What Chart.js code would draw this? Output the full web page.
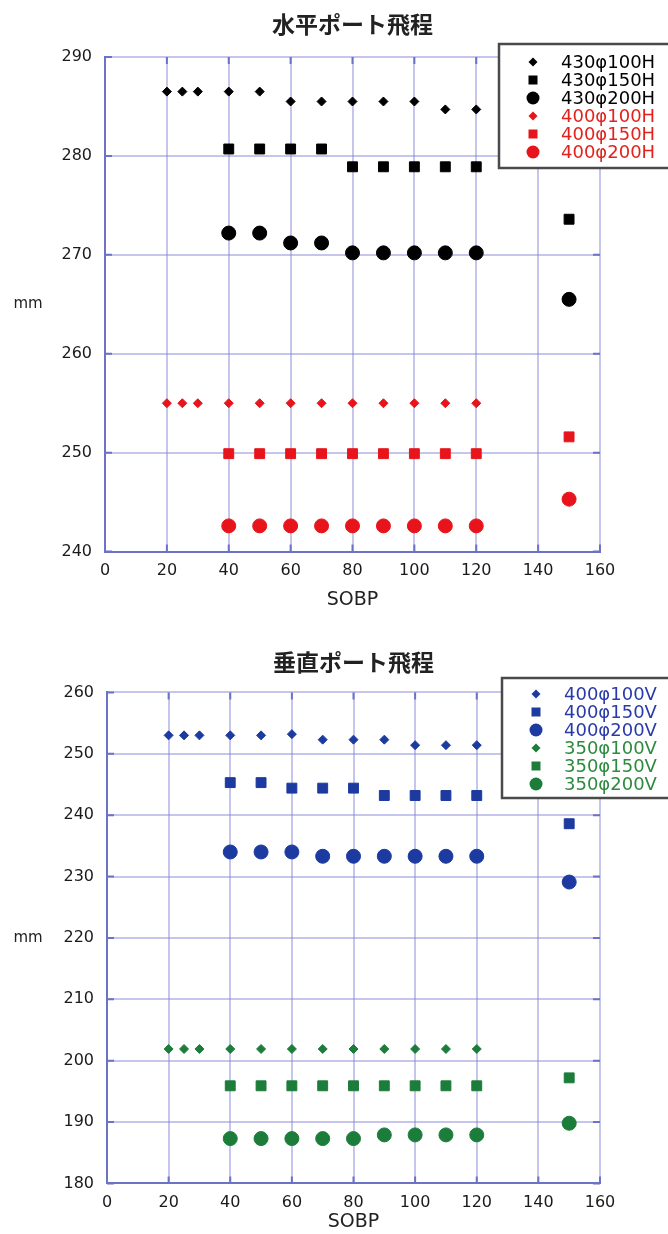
<!DOCTYPE html>
<html>
<head>
<meta charset="utf-8">
<script src="https://cdn.jsdelivr.net/npm/chart.js@4.4.1/dist/chart.umd.min.js"></script>
<style>
  body { margin: 0; background: #fff; }
  canvas { display: block; }
</style>
</head>
<body>
<canvas id="horizChart" width="668" height="620"></canvas>
<canvas id="vertChart" width="668" height="614"></canvas>
<script>
// SOBP positions
var sobpSmall = [20, 25, 30, 40, 50, 60, 70, 80, 90, 100, 110, 120];
var sobpLarge = [40, 50, 60, 70, 80, 90, 100, 110, 120, 150];
var xTicks = [0, 20, 40, 60, 80, 100, 120, 140, 160];

// 水平ポート飛程 (mm)
var h430_100 = [286.5, 286.5, 286.5, 286.5, 286.5, 285.5, 285.5, 285.5, 285.5, 285.5, 284.7, 284.7];
var h430_150 = [280.7, 280.7, 280.7, 280.7, 278.9, 278.9, 278.9, 278.9, 278.9, 273.6];
var h430_200 = [272.2, 272.2, 271.2, 271.2, 270.2, 270.2, 270.2, 270.2, 270.2, 265.5];
var h400_100 = [255.0, 255.0, 255.0, 255.0, 255.0, 255.0, 255.0, 255.0, 255.0, 255.0, 255.0, 255.0];
var h400_150 = [249.9, 249.9, 249.9, 249.9, 249.9, 249.9, 249.9, 249.9, 249.9, 251.6];
var h400_200 = [242.6, 242.6, 242.6, 242.6, 242.6, 242.6, 242.6, 242.6, 242.6, 245.3];
var hLabels = ['430φ100H', '430φ150H', '430φ200H', '400φ100H', '400φ150H', '400φ200H'];

// 垂直ポート飛程 (mm)
var v400_100 = [253.0, 253.0, 253.0, 253.0, 253.0, 253.2, 252.3, 252.3, 252.3, 251.4, 251.4, 251.4];
var v400_150 = [245.3, 245.3, 244.4, 244.4, 244.4, 243.2, 243.2, 243.2, 243.2, 238.6];
var v400_200 = [234.0, 234.0, 234.0, 233.3, 233.3, 233.3, 233.3, 233.3, 233.3, 229.1];
var v350_100 = [201.9, 201.9, 201.9, 201.9, 201.9, 201.9, 201.9, 201.9, 201.9, 201.9, 201.9, 201.9];
var v350_150 = [195.9, 195.9, 195.9, 195.9, 195.9, 195.9, 195.9, 195.9, 195.9, 197.2];
var v350_200 = [187.3, 187.3, 187.3, 187.3, 187.3, 187.9, 187.9, 187.9, 187.9, 189.8];
var vLabels = ['400φ100V', '400φ150V', '400φ200V', '350φ100V', '350φ150V', '350φ200V'];

var gridColor = 'rgba(128,128,212,0.45)';
var axisColor = '#6c72c6';
var tickFont = { family: 'DejaVu Sans', size: 16 };

function pairs(xs, ys) {
  return ys.map(function(y, i) { return { x: xs[i], y: y }; });
}

function series(label, xs, ys, color, textColor, style) {
  var r = style === 'rectRot' ? 4.5 : 7;
  return {
    label: label,
    data: pairs(xs, ys),
    pointStyle: style,
    pointRadius: r,
    pointHoverRadius: r,
    backgroundColor: color,
    borderColor: color,
    borderWidth: 1,
    showLine: false,
    textColor: textColor
  };
}

function drawMarker(ctx, style, x, y, color) {
  ctx.fillStyle = color;
  ctx.beginPath();
  if (style === 'rectRot') {
    ctx.moveTo(x, y - 4.5); ctx.lineTo(x + 4.5, y); ctx.lineTo(x, y + 4.5); ctx.lineTo(x - 4.5, y);
    ctx.closePath();
  } else if (style === 'rect') {
    ctx.rect(x - 4.5, y - 4.5, 9, 9);
  } else {
    ctx.arc(x, y, 6.5, 0, Math.PI * 2);
  }
  ctx.fill();
}

var decorPlugin = {
  id: 'decor',
  afterDraw: function(chart) {
    var o = chart.options.plugins.decor;
    var ctx = chart.ctx;
    var a = chart.chartArea;
    var xs = chart.scales.x, ys = chart.scales.y;
    ctx.save();
    // small inner tick marks
    ctx.strokeStyle = axisColor;
    ctx.lineWidth = 2;
    xs.ticks.forEach(function(t) {
      var px = xs.getPixelForValue(t.value);
      ctx.beginPath();
      ctx.moveTo(px, a.bottom); ctx.lineTo(px, a.bottom - 7);
      ctx.moveTo(px, a.top); ctx.lineTo(px, a.top + 7);
      ctx.stroke();
    });
    ys.ticks.forEach(function(t) {
      var py = ys.getPixelForValue(t.value);
      ctx.beginPath();
      ctx.moveTo(a.left, py); ctx.lineTo(a.left + 7, py);
      ctx.moveTo(a.right, py); ctx.lineTo(a.right - 7, py);
      ctx.stroke();
    });
    // title
    ctx.fillStyle = '#222';
    ctx.textAlign = 'center';
    ctx.textBaseline = 'middle';
    ctx.font = 'bold 23px "Noto Sans CJK JP"';
    ctx.fillText(o.title, (a.left + a.right) / 2, o.titleY);
    // y unit
    ctx.font = '15px "DejaVu Sans"';
    ctx.fillText('mm', 28, (a.top + a.bottom) / 2);
    // legend box
    var b = o.box;
    ctx.fillStyle = '#fff';
    ctx.fillRect(b.x, b.y, b.w, b.h);
    ctx.strokeStyle = '#4a4a4a';
    ctx.lineWidth = 2.5;
    ctx.strokeRect(b.x, b.y, b.w, b.h);
    ctx.font = '18px "DejaVu Sans"';
    ctx.textAlign = 'left';
    chart.data.datasets.forEach(function(ds, i) {
      var ry = b.y + o.rowStart + i * o.rowStep;
      drawMarker(ctx, ds.pointStyle, b.x + 34, ry, ds.backgroundColor);
      ctx.fillStyle = ds.textColor;
      ctx.fillText(ds.label, b.x + 62, ry + 1);
    });
    ctx.restore();
  }
};

function makeChart(id, datasets, yMin, yMax, g) {
  var ctx = document.getElementById(id).getContext('2d');
  return new Chart(ctx, {
    type: 'scatter',
    data: { datasets: datasets },
    options: {
      responsive: false,
      animation: false,
      devicePixelRatio: 1,
      layout: { padding: { top: g.plotTop, right: 68, left: 0, bottom: 0 } },
      plugins: {
        legend: { display: false },
        tooltip: { enabled: false },
        decor: g
      },
      scales: {
        x: {
          type: 'linear',
          min: 0, max: 160,
          afterBuildTicks: function(s) { s.ticks = xTicks.map(function(v) { return { value: v }; }); },
          afterFit: function(s) { s.height = g.xAxisH; },
          ticks: { font: tickFont, color: '#1a1a1a', padding: 10, maxRotation: 0 },
          grid: { color: gridColor, lineWidth: 2, drawTicks: false },
          border: { color: axisColor, width: 2 },
          title: {
            display: true, text: 'SOBP', color: '#222',
            font: { family: 'DejaVu Sans', size: 19 },
            padding: { top: 0, bottom: g.sobpPad }
          }
        },
        y: {
          min: yMin, max: yMax,
          afterFit: function(s) { s.width = g.yAxisW; },
          ticks: { stepSize: 10, font: tickFont, color: '#1a1a1a', padding: 13 },
          grid: { color: gridColor, lineWidth: 2, drawTicks: false },
          border: { color: axisColor, width: 2 }
        }
      }
    },
    plugins: [decorPlugin]
  });
}

var black = '#000000', red = '#e8141c', blue = '#1c3aa0', green = '#1c7d3a';

makeChart('horizChart', [
  series(hLabels[0], sobpSmall, h430_100, black, '#000', 'rectRot'),
  series(hLabels[1], sobpLarge, h430_150, black, '#000', 'rect'),
  series(hLabels[2], sobpLarge, h430_200, black, '#000', 'circle'),
  series(hLabels[3], sobpSmall, h400_100, red, '#e3221e', 'rectRot'),
  series(hLabels[4], sobpLarge, h400_150, red, '#e3221e', 'rect'),
  series(hLabels[5], sobpLarge, h400_200, red, '#e3221e', 'circle')
], 240, 290, {
  title: '水平ポート飛程', titleY: 24,
  plotTop: 57, xAxisH: 68.4, yAxisW: 105, sobpPad: 8.6,
  box: { x: 499, y: 44, w: 185, h: 124 }, rowStart: 18, rowStep: 18
});

makeChart('vertChart', [
  series(vLabels[0], sobpSmall, v400_100, blue, '#2a3aa8', 'rectRot'),
  series(vLabels[1], sobpLarge, v400_150, blue, '#2a3aa8', 'rect'),
  series(vLabels[2], sobpLarge, v400_200, blue, '#2a3aa8', 'circle'),
  series(vLabels[3], sobpSmall, v350_100, green, '#2e8a3e', 'rectRot'),
  series(vLabels[4], sobpLarge, v350_150, green, '#2e8a3e', 'rect'),
  series(vLabels[5], sobpLarge, v350_200, green, '#2e8a3e', 'circle')
], 180, 260, {
  title: '垂直ポート飛程', titleY: 42,
  plotTop: 72.4, xAxisH: 50.6, yAxisW: 107, sobpPad: 0.6,
  box: { x: 502, y: 58, w: 185, h: 120 }, rowStart: 16, rowStep: 18
});
</script>
</body>
</html>
